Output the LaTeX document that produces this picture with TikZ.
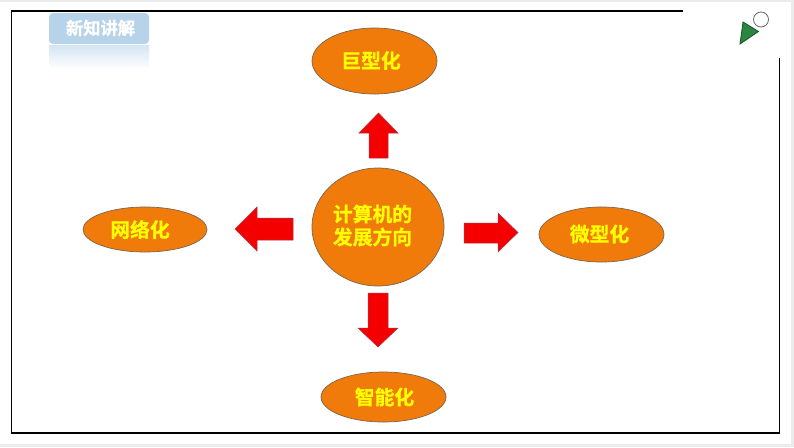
\documentclass[tikz,border=0pt]{standalone}
\usepackage{fontspec}
\newfontfamily\cjk{Noto Sans CJK SC}[BoldFont={Noto Sans CJK SC Bold},BoldFeatures={FakeBold=0.7}]
\definecolor{orangefill}{HTML}{F07A0A}
\definecolor{ringc}{HTML}{7A6650}
\definecolor{tabblue}{HTML}{B7D3EA}
\definecolor{yel}{HTML}{FFFF00}
\definecolor{arrowred}{HTML}{F50000}
\definecolor{arrowedge}{HTML}{A03A50}
\definecolor{tri}{HTML}{2A8540}
\usetikzlibrary{shapes.geometric}
\tikzset{
  blob/.style={ellipse,draw=ringc,line width=.7pt,fill=orangefill,inner sep=0pt},
  lab/.style={inner sep=0pt,text=yel,font=\cjk\bfseries\fontsize{19.8pt}{23pt}\selectfont,align=center},
  redarrow/.style={fill=arrowred,draw=arrowedge,line width=.5pt,line join=miter},
  frameline/.style={black,line width=1.9pt}
}
\begin{document}
\begin{tikzpicture}[x=1pt,y=-1pt]
\useasboundingbox (0,0) rectangle (794,447);
\fill[gray!15] (0,0) rectangle (794,447);
\fill[white] (0,2) rectangle (791,444);
% frame
\coordinate (fa) at (683,11);
\coordinate (fb) at (11.5,11);
\coordinate (fc) at (11.5,433);
\coordinate (fd) at (779.5,433);
\coordinate (fe) at (779.5,58);
\draw[frameline,line join=miter] (fa) -- (fb) -- (fc) -- (fd) -- (fe);
% tab
\shade[top color=tabblue!60,bottom color=white] (49,45) rectangle (149,69);
\node[fill=tabblue,rounded corners=4pt,minimum width=100pt,minimum height=31pt,inner sep=0pt] (tab) at (99,28.5) {};
\node[inner sep=0pt,text=white,font=\cjk\bfseries\fontsize{17.3pt}{20pt}\selectfont] (tabtext) at (100.5,28) {新知讲解};
% logo
\node[circle,draw=gray!80!black,fill=white,line width=.8pt,minimum size=15pt,inner sep=0pt] (ring) at (761,19.5) {};
\fill[tri,draw=tri!60!black,line width=.8pt] (743,22) -- (758.5,31.5) -- (740,44) -- cycle;
% ellipses
\node[blob,minimum width=132pt,minimum height=118pt] (c) at (378,227) {};
\node[lab] (ct) at (372.5,225.5) {计算机的\\发展方向};
\node[blob,minimum width=125pt,minimum height=66pt] (top) at (374.5,61) {};
\node[lab] (tt) at (371,60.5) {巨型化};
\node[blob,minimum width=124pt,minimum height=45pt] (left) at (145,229.5) {};
\node[lab] (lt) at (140,229.5) {网络化};
\node[blob,minimum width=125pt,minimum height=55pt] (right) at (601.5,234.5) {};
\node[lab] (rt) at (599.5,234) {微型化};
\node[blob,minimum width=125pt,minimum height=50pt] (bottom) at (383.5,397) {};
\node[lab] (bt) at (384.5,397) {智能化};
% arrows
\draw[redarrow] (378.5,113) -- (398,133) -- (388,133) -- (388,158) -- (369,158) -- (369,133) -- (359,133) -- cycle;
\draw[redarrow] (235,229) -- (257,207) -- (257,218) -- (293,218) -- (293,240) -- (257,240) -- (257,251) -- cycle;
\draw[redarrow] (518,232.5) -- (498,213) -- (498,223) -- (464,223) -- (464,243) -- (498,243) -- (498,252) -- cycle;
\draw[redarrow] (378,347) -- (398,328) -- (388,328) -- (388,293) -- (368,293) -- (368,328) -- (358,328) -- cycle;
\end{tikzpicture}
\end{document}
